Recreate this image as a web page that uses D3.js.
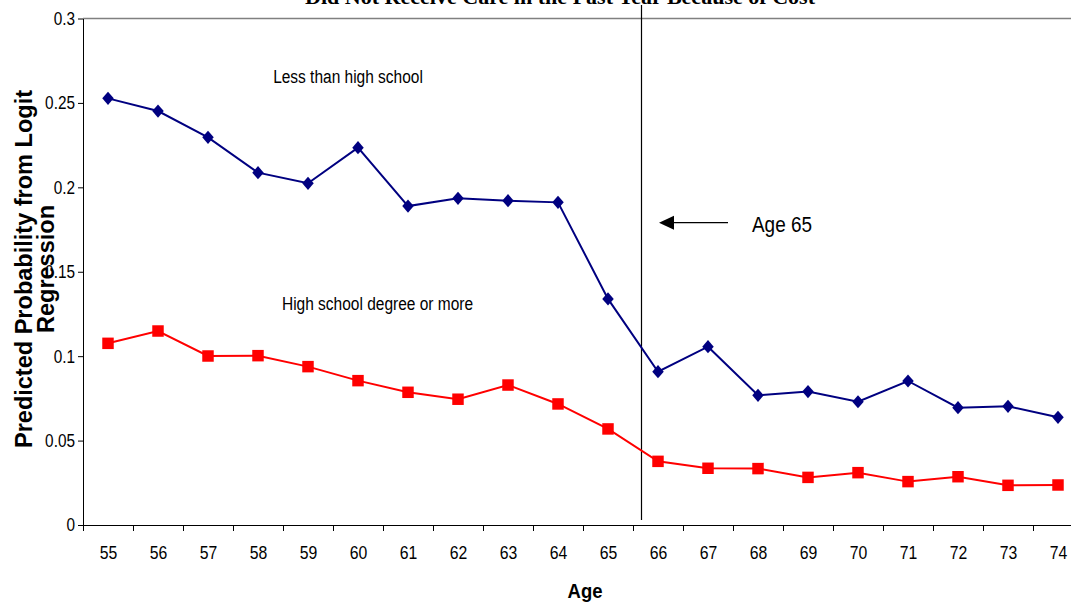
<!DOCTYPE html>
<html>
<head>
<meta charset="utf-8">
<script src="https://cdn.jsdelivr.net/npm/d3@7"></script>
<style>
  html, body { margin: 0; padding: 0; background: #fff; }
  svg { display: block; }
  text { font-family: Arial, "Liberation Sans", sans-serif; fill: #000; }
</style>
</head>
<body>
<svg id="chart" width="1071" height="604"></svg>
<script>
// ---- data ----
const ages = [55,56,57,58,59,60,61,62,63,64,65,66,67,68,69,70,71,72,73,74];
const lessThanHighSchool = [0.2527,0.2452,0.2296,0.2087,0.2024,0.2235,0.1889,0.1935,0.1921,0.1911,
                            0.1339,0.0908,0.1056,0.0768,0.0790,0.0730,0.0853,0.0695,0.0703,0.0638];
const highSchoolOrMore   = [0.1076,0.1149,0.1001,0.1003,0.0938,0.0855,0.0786,0.0745,0.0829,0.0717,
                            0.0569,0.0377,0.0336,0.0334,0.0282,0.0310,0.0257,0.0286,0.0235,0.0237];
const yTickValues = [0, 0.05, 0.1, 0.15, 0.2, 0.25, 0.3];
const yTickLabels = ["0", "0.05", "0.1", "0.15", "0.2", "0.25", "0.3"];
const cutoffAge = 65.67;
const titleText = "Did Not Receive Care in the Past Year Because of Cost";
const yTitleLines = ["Predicted Probability from Logit", "Regression"];
const xTitle = "Age";
const seriesLabels = ["Less than high school", "High school degree or more"];
const arrowLabel = "Age 65";

(function () {
// ---- layout ----
const svg = d3.select("#chart");
const mLeft = 83, mRight = 1083, mTop = 18.5, mBottom = 525;
const x = d3.scaleLinear().domain([54.5, 74.5]).range([mLeft, mRight]);
const y = d3.scaleLinear().domain([0, 0.3]).range([mBottom, mTop]);

function condense(sel, ratio) {
  sel.each(function () {
    const L = this.getComputedTextLength();
    d3.select(this).attr("textLength", L * ratio).attr("lengthAdjust", "spacingAndGlyphs");
  });
}

// title (mostly cut off at top, as in the source image)
const title = svg.append("text")
  .attr("x", 560).attr("y", 4)
  .attr("text-anchor", "middle")
  .style("font-family", "'Liberation Serif', 'Times New Roman', serif")
  .style("font-weight", "bold").style("font-size", "20px")
  .text(titleText);
title.attr("textLength", 510).attr("lengthAdjust", "spacingAndGlyphs");

// top frame line
svg.append("line")
  .attr("x1", mLeft).attr("x2", mRight).attr("y1", y(0.3)).attr("y2", y(0.3))
  .attr("stroke", "#808080").attr("stroke-width", 1.5);

// y axis
const yAxis = svg.append("g")
  .attr("transform", `translate(${mLeft},0)`)
  .call(d3.axisLeft(y).tickValues(yTickValues)
    .tickFormat((d, i) => yTickLabels[i]).tickSize(5).tickPadding(3).tickSizeOuter(0));
yAxis.select(".domain").attr("stroke", "#000");
yAxis.selectAll(".tick line").attr("stroke", "#000");
yAxis.selectAll("text").style("font-size", "18.5px").style("font-family", "Arial, 'Liberation Sans'");
condense(yAxis.selectAll("text"), 0.83);

// x axis: boundary ticks
const xTicks = svg.append("g")
  .attr("transform", `translate(0,${mBottom})`)
  .call(d3.axisBottom(x).tickValues(ages.map(a => a - 0.5).concat([74.5]))
    .tickFormat("").tickSize(6).tickSizeOuter(0));
xTicks.select(".domain").attr("stroke", "#000");
xTicks.selectAll(".tick line").attr("stroke", "#000");

// x axis: labels
const xLabels = svg.append("g")
  .attr("transform", `translate(0,${mBottom})`)
  .call(d3.axisBottom(x).tickValues(ages).tickFormat(d3.format("d")).tickSize(0).tickPadding(21));
xLabels.select(".domain").remove();
xLabels.selectAll("text").style("font-size", "19px").style("font-family", "Arial, 'Liberation Sans'");
condense(xLabels.selectAll("text"), 0.83);

// axis titles
const yt = svg.append("g").attr("transform", "translate(0,269)");
yTitleLines.forEach((t, i) => {
  const tx = yt.append("text")
    .attr("transform", `translate(${32 + i * 22},0) rotate(-90)`)
    .attr("text-anchor", "middle")
    .style("font-weight", "bold").style("font-size", "24px")
    .text(t);
  condense(tx, 0.98);
});
const xt = svg.append("text")
  .attr("x", 585).attr("y", 598).attr("text-anchor", "middle")
  .style("font-weight", "bold").style("font-size", "21px")
  .text(xTitle);
condense(xt, 0.88);

// cutoff line
svg.append("line")
  .attr("x1", x(cutoffAge)).attr("x2", x(cutoffAge))
  .attr("y1", 5).attr("y2", 520)
  .attr("stroke", "#000").attr("stroke-width", 1.2);

// series
const line = d3.line().x((d, i) => x(ages[i])).y(d => y(d));
svg.append("path").datum(lessThanHighSchool)
  .attr("d", line).attr("fill", "none").attr("stroke", "#000080").attr("stroke-width", 2);
svg.append("path").datum(highSchoolOrMore)
  .attr("d", line).attr("fill", "none").attr("stroke", "#FF0000").attr("stroke-width", 2);

const diamond = {
  draw(ctx, size) {
    const w = Math.sqrt(size) / 2, h = w * 1.15;
    ctx.moveTo(0, -h); ctx.lineTo(w, 0); ctx.lineTo(0, h); ctx.lineTo(-w, 0); ctx.closePath();
  }
};
svg.append("g").selectAll("path").data(lessThanHighSchool).join("path")
  .attr("transform", (d, i) => `translate(${x(ages[i])},${y(d)})`)
  .attr("d", d3.symbol().type(diamond).size(132))
  .attr("fill", "#000080");
svg.append("g").selectAll("path").data(highSchoolOrMore).join("path")
  .attr("transform", (d, i) => `translate(${x(ages[i])},${y(d)})`)
  .attr("d", d3.symbol().type(d3.symbolSquare).size(132))
  .attr("fill", "#FF0000");

// series annotations
const a1 = svg.append("text").attr("x", 348).attr("y", 83).attr("text-anchor", "middle")
  .style("font-size", "18px").text(seriesLabels[0]);
condense(a1, 0.86);
const a2 = svg.append("text").attr("x", 377.5).attr("y", 309.5).attr("text-anchor", "middle")
  .style("font-size", "18px").text(seriesLabels[1]);
condense(a2, 0.86);

// arrow annotation
const ay = 222.7;
svg.append("line").attr("x1", 728).attr("x2", 670).attr("y1", ay).attr("y2", ay)
  .attr("stroke", "#000").attr("stroke-width", 1.2);
svg.append("path")
  .attr("d", `M659,${ay} L674,${ay - 7} L674,${ay + 7} Z`)
  .attr("fill", "#000");
const a3 = svg.append("text").attr("x", 752).attr("y", 232).attr("text-anchor", "start")
  .style("font-size", "22px").text(arrowLabel);
condense(a3, 0.86);
})();
</script>
</body>
</html>
